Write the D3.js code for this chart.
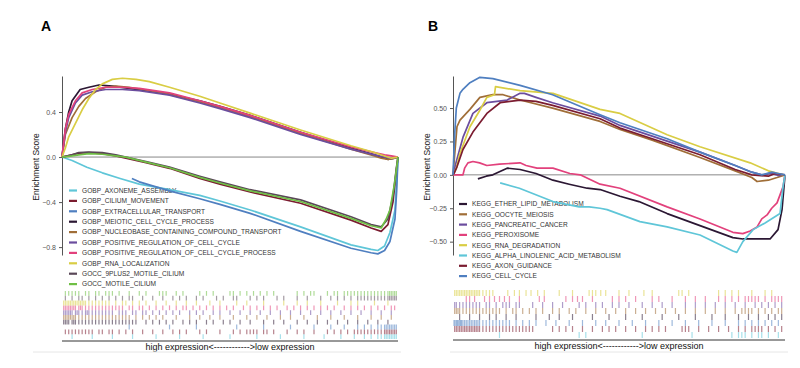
<!DOCTYPE html>
<html>
<head>
<meta charset="utf-8">
<script src="https://cdn.jsdelivr.net/npm/d3@7"></script>
<style>
  body { margin: 0; background: #fff; }
  svg { display: block; font-family: "Liberation Sans", Arial, sans-serif; }
</style>
</head>
<body>
<svg width="800" height="368"></svg>
<script>
// ---- panel A : GO gene sets ----
var namesA = ["GOBP_AXONEME_ASSEMBLY", "GOBP_CILIUM_MOVEMENT", "GOBP_EXTRACELLULAR_TRANSPORT",
  "GOBP_MEIOTIC_CELL_CYCLE_PROCESS", "GOBP_NUCLEOBASE_CONTAINING_COMPOUND_TRANSPORT",
  "GOBP_POSITIVE_REGULATION_OF_CELL_CYCLE", "GOBP_POSITIVE_REGULATION_OF_CELL_CYCLE_PROCESS",
  "GOBP_RNA_LOCALIZATION", "GOCC_9PLUS2_MOTILE_CILIUM", "GOCC_MOTILE_CILIUM"];
var ticksA = [-0.8, -0.4, 0, 0.4];

// running enrichment score, [rank %, ES]
var esAxoneme = [[0,0],[3,-0.03],[7.4,-0.09],[12,-0.14],[17.3,-0.19],[23,-0.24],[32,-0.29],[41,-0.34],[47,-0.39],[56,-0.47],[71,-0.62],[86,-0.78],[92,-0.82],[94,-0.83],[96,-0.79],[97.6,-0.67],[99.1,-0.47],[100,0]];
var esCilium = [[0,0],[3,0.02],[5,0.035],[8,0.04],[12,0.03],[16,0.01],[19,-0.01],[25,-0.05],[32,-0.1],[41,-0.19],[47,-0.24],[56,-0.31],[71,-0.41],[86,-0.56],[92,-0.63],[95,-0.66],[97,-0.6],[98.5,-0.4],[99.5,-0.12],[100,0]];
var esExtra = [[20.8,-0.19],[23,-0.22],[32,-0.3],[41,-0.37],[47,-0.42],[56,-0.5],[71,-0.66],[86,-0.81],[92,-0.85],[94,-0.86],[96,-0.83],[97.6,-0.75],[99.1,-0.55],[99.6,-0.3],[100,0]];
var esMeiotic = [[0,0],[1,0.25],[2,0.4],[3,0.5],[5.4,0.6],[8,0.62],[11,0.64],[15,0.63],[20,0.61],[30,0.57],[41,0.5],[47,0.45],[56,0.37],[71,0.22],[86,0.08],[93,0.02],[95,0],[97,-0.02],[99,-0.01],[100,0]];
var esNucleo = [[0,0],[1,0.2],[3,0.35],[5,0.45],[7,0.52],[10,0.58],[13,0.62],[16,0.63],[20,0.62],[30,0.57],[41,0.49],[47,0.44],[56,0.36],[71,0.21],[86,0.07],[93,0.01],[95,-0.01],[97,-0.02],[99,-0.01],[100,0]];
var esPosReg = [[0,0],[1,0.22],[2,0.35],[4,0.48],[6,0.55],[9,0.58],[13,0.6],[18,0.6],[23,0.59],[32,0.55],[41,0.48],[47,0.43],[56,0.35],[71,0.2],[86,0.07],[93,0.02],[96,0],[98,-0.01],[100,0]];
var esPosRegProc = [[0,0],[1,0.25],[2,0.38],[4,0.5],[6,0.57],[9,0.6],[13,0.62],[18,0.62],[23,0.61],[32,0.57],[41,0.5],[47,0.45],[56,0.37],[71,0.22],[86,0.09],[93,0.04],[96,0.02],[98,0.01],[100,0]];
var esRnaLoc = [[0,0],[1,0.08],[2,0.18],[4,0.3],[6,0.42],[8,0.52],[10,0.6],[12,0.65],[15,0.69],[18,0.7],[22,0.69],[26,0.67],[32,0.62],[41,0.54],[47,0.48],[56,0.39],[71,0.24],[86,0.1],[93,0.04],[96,0.01],[98,-0.01],[100,0]];
var es9plus2 = [[0,0],[3,0.02],[5,0.04],[8,0.045],[12,0.04],[16,0.02],[19,0],[25,-0.04],[32,-0.09],[41,-0.17],[47,-0.22],[56,-0.29],[71,-0.38],[86,-0.53],[92,-0.6],[95,-0.62],[97,-0.55],[98.5,-0.35],[99.5,-0.1],[100,0]];
var esMotile = [[0,0],[3,0.01],[5,0.02],[8,0.03],[12,0.025],[16,0.01],[19,0],[25,-0.045],[32,-0.095],[41,-0.18],[47,-0.23],[56,-0.3],[71,-0.395],[86,-0.545],[92,-0.61],[95,-0.63],[96.5,-0.55],[97.6,-0.47],[99,-0.23],[100,0]];

// gene hit positions, rank %
var hitAxoneme = [3,9,15,21,28,35,42,50,58,65,72,78,83,87,90,92,94,95,96,96.5,97,97.5,98,98.5,99,99.5];
var hitCilium = [1,2,3,4,5,6,7,8,9,11,12,14,15,17,19,21,24,27,30,33,35,37,41,43,47,51,53,55,56,57,58,60,61,63,67,70,72,75,79,81,83,85,87,88,89,90,91,92,93,94,95,96,96.5,97,97.5,98,98.5,99,99.5];
var hitExtra = [20,32,40,52,60,68,75,80,84,88,90,92,94,95,96,96.5,97,97.5,98,98.5,99,99.5];
var hitMeiotic = [0.5,1,1.5,2,3,3.5,4,5,6,7,8,9,10,11,12,13,14,15,16,17,18,19,20,21,22,25,27,29,31,33,36,38,40,43,45,48,50,53,56,60,63,66,70,73,76,79,82,85,88,91,94,97];
var hitNucleo = [0.5,1,1.5,2,2.5,3,3.5,4,5,6,7,8,9,10,11,12,13,14,15,16,17,18,19,20,22,24,26,28,30,34,38,41,44,47,51,55,58,61,65,68,72,76,80,84,88,92,95,98];
var hitPosReg = [0.5,1,1.5,2,2.5,3,4,4.5,5,6,7,7.5,8,9,10,11,12,13,14,15,17,18,19,21,22,24,25,27,29,31,33,35,38,40,42,45,47,50,53,56,59,62,65,68,71,74,77,80,83,86,89,92,95,98];
var hitPosRegProc = [0.5,1,1.5,2,2.5,3,3.5,4,5,5.5,6,7,8,9,10,11,12,13,14,15,16,17,18,20,21,23,24,26,28,30,32,34,36,37,39,41,43,45,47,49,51,54,56,58,60,62,64,67,69,71,73,75,77,79,81,84,86,88,90,92,94,96,98,99];
var hitRnaLoc = [0.5,1,1.5,2,2.5,3,3.5,4,4.5,5,5.5,6,6.5,7,8,9,10,11,12,13,14,16,18,19,21,23,25,28,31,34,37,40,44,47,52,55,60,66,70,73,77,82,86,88,93,97];
var hit9plus2 = [1,3,5,6,8,10,12,14,16,18,20,21,24,27,30,33,35,37,40,42,46,48,51,52,56,58,60,64,66,70,73,77,80,82,84,86,88,89,90,91,92,93,94,95,96,97,97.5,98,98.5,99,99.5];
var hitMotile = [1,2,3,4,5,7,8,10,11,13,14,15,17,20,23,25,29,30,31,34,36,41,43,45,50,51,53,55,57,59,61,63,70,72,74,75,79,81,82,84,85,86,87,88,89,90,91,92,93,94,95,96,97,97.5,98,98.5,99,99.5];

// ---- panel B : KEGG pathways ----
var namesB = ["KEGG_ETHER_LIPID_METABOLISM", "KEGG_OOCYTE_MEIOSIS", "KEGG_PANCREATIC_CANCER",
  "KEGG_PEROXISOME", "KEGG_RNA_DEGRADATION", "KEGG_ALPHA_LINOLENIC_ACID_METABOLISM",
  "KEGG_AXON_GUIDANCE", "KEGG_CELL_CYCLE"];
var ticksB = [-0.5, -0.25, 0, 0.25, 0.5];

var esEther = [[7.5,-0.03],[10,-0.01],[12,0],[16.3,0.05],[20.2,0.04],[25,0.01],[30.1,-0.04],[35,-0.07],[40.4,-0.1],[44.3,-0.11],[50.3,-0.16],[56,-0.2],[64.5,-0.29],[74.4,-0.38],[84.3,-0.47],[87.3,-0.48],[91,-0.48],[95.5,-0.48],[97.9,-0.41],[99.1,-0.26],[100,0]];
var esOocyte = [[0,0],[0.5,0.15],[1.2,0.36],[2.1,0.41],[5.1,0.49],[8.1,0.58],[12,0.6],[15.1,0.6],[20.2,0.56],[30,0.5],[44.3,0.4],[50.3,0.34],[60,0.26],[74.4,0.13],[85,0.03],[90,-0.02],[91.6,-0.05],[95,-0.04],[97.6,-0.02],[100,0]];
var esPancreatic = [[0,0],[1,0.1],[3,0.28],[6,0.46],[10.2,0.54],[16.3,0.56],[20.2,0.61],[21.5,0.61],[25,0.58],[30,0.54],[44.3,0.44],[50.3,0.37],[60,0.29],[74.4,0.17],[85,0.07],[90,0.02],[93,0],[96,0.01],[98,-0.005],[100,0]];
var esPeroxisome = [[0,0],[3,0],[3.5,0.05],[4.5,0.09],[6,0.1],[8,0.09],[10.2,0.07],[14,0.08],[20.2,0.09],[22,0.07],[25.3,0.05],[30.1,0.05],[35.2,0.01],[38.3,0],[44.3,-0.07],[50.3,-0.1],[64.5,-0.24],[74.4,-0.33],[84.3,-0.43],[87.3,-0.44],[89.5,-0.42],[91.6,-0.39],[93,-0.33],[94.6,-0.3],[96,-0.25],[97.6,-0.21],[98.5,-0.15],[99.4,-0.09],[100,0]];
var esRnaDeg = [[0,0],[1,0.05],[2.1,0.16],[5.1,0.36],[8,0.48],[10.2,0.58],[12.5,0.6],[12.8,0.66],[20.2,0.63],[30.1,0.61],[44.3,0.49],[50.3,0.46],[64.5,0.3],[74.4,0.21],[89.5,0.09],[95,0.03],[99.4,0],[100,0]];
var esAlpha = [[14.2,-0.06],[20,-0.1],[30.1,-0.2],[38,-0.24],[41,-0.24],[44.3,-0.25],[46.4,-0.26],[56.3,-0.35],[64.5,-0.39],[74.4,-0.45],[84.3,-0.57],[85.5,-0.58],[87.3,-0.5],[90.4,-0.41],[94,-0.36],[98.5,-0.29],[99.4,-0.09],[100,0]];
var esAxon = [[0,0],[0.5,0.02],[1.2,0.06],[3,0.19],[6,0.32],[10.2,0.46],[14.2,0.54],[20.2,0.56],[25,0.55],[30,0.52],[44.3,0.42],[50.3,0.35],[60,0.27],[74.4,0.15],[85,0.04],[90,0],[95,-0.01],[97,0.01],[100,0]];
var esCellCycle = [[0,0],[0.5,0.3],[1,0.5],[2.1,0.61],[3,0.64],[5.1,0.69],[8.1,0.73],[12,0.72],[20.2,0.67],[30,0.6],[44.3,0.45],[50.3,0.39],[64.5,0.27],[74.4,0.17],[85,0.07],[90,0.02],[93,0],[96,0.02],[98,0.01],[100,0]];

var hitEther = [2,5,8,11,13,16,19,25,29,32,36,42,47,52,57,63,68,73,78,82,86,89,92,95,97,99];
var hitOocyte = [0.5,1,1.5,2,3,4,5,6,7,8,9,10,11,12,13,14,16,18,19,21,23,25,27,30,32,35,37,40,43,46,49,52,55,58,61,64,67,70,73,76,79,82,85,87,88,89,90,92,94,96,98,99];
var hitPancreatic = [0.5,1,2,3,4,5,6,7,8,10,11,13,15,16,17,19,20,24,27,30,33,38,40,43,45,48,50,53,57,60,63,66,70,73,76,79,82,85,88,91,93,95,97,99];
var hitPeroxisome = [4,5,6.5,9.5,11,12.5,14,15.5,17,20,26,27.5,34,36,37.5,39,42,48,50,52,55,60,62,66,70,73,76,80,82,84,86,88,89,90,91,92,94,96,97,98,99];
var hitRnaDeg = [0.5,1,1.5,2,2.5,3,3.5,4,4.5,5,5.5,6,6.5,7,7.5,8,9,10,11,12,16.5,18.5,20,22,23.5,25.5,27.5,32,36,41,42,43,44.5,46,50,53,57.5,60,68,69,71,80,82,84,86,90,94,96];
var hitAlpha = [14,38,40,57,72,84,86,87,88,90,92,93,95,98];
var hitAxon = [0.5,1,1.5,2,2.5,3,3.5,4,4.5,5,5.5,6,6.5,7,7.5,8,9,10,11,12,13,14,15,16,17,18,19,20,21,22,23,24,30,32,34,36,39,42,45,47,49,52,55,58,60,62,64,69,70,71,74,77,80,83,86,88,90,91,92,93,95,97,99];
var hitCellCycle = [0.3,0.6,1,1.3,1.6,2,2.3,2.6,3,3.5,4,4.5,5,5.5,6,6.5,7,7.5,8,9,10,11,12,13,14,15,16,17,19,21,23,25,28,31,35,39,43,46,50,54,58,62,66,70,74,78,82,86,88,90,92,94,96,98];

var colorsA = ["#5fc6d8", "#7b1c30", "#4f7fc0", "#2b1733", "#a06e38", "#6b4d9e", "#e2417c", "#d9cd44", "#5a4858", "#6fbf45"];
var colorsB = ["#2b1733", "#a06e38", "#6b4d9e", "#e2417c", "#d9cd44", "#5fc6d8", "#7b1c30", "#4f7fc0"];

var svg = d3.select("svg");

function drawPanel(p) {
  var x = d3.scaleLinear().domain([0, 100]).range([p.x0, p.x1]);
  var y = d3.scaleLinear().domain(p.yDomain).range([255, 76]);
  var g = svg.append("g");

  // panel letter
  g.append("text").attr("x", p.letterX).attr("y", 31)
    .style("font-size", "14px").style("font-weight", "bold").text(p.letter);

  // zero line
  g.append("line")
    .attr("x1", x(0)).attr("x2", x(100)).attr("y1", y(0)).attr("y2", y(0))
    .style("stroke", "#7a7a7a").style("stroke-width", 0.9);

  // y axis
  var ax = g.append("g").attr("transform", "translate(" + p.x0 + ",0)")
    .call(d3.axisLeft(y).tickValues(p.ticks).tickFormat(d3.format(p.fmt)).tickSize(3).tickSizeOuter(0));
  ax.select(".domain").style("stroke", "#555").style("stroke-width", 1);
  ax.selectAll(".tick line").style("stroke", "#555");
  ax.selectAll(".tick text").style("font-size", "7px").style("fill", "#555")
    .style("font-family", "Liberation Sans, Arial, sans-serif");

  g.append("text")
    .attr("transform", "translate(" + p.labelX + ",167) rotate(-90)")
    .style("text-anchor", "middle").style("font-size", "8.5px").style("fill", "#222")
    .text("Enrichment Score");

  // legend (lines are drawn over it)
  var leg = g.append("g").selectAll("g").data(p.names).enter().append("g")
    .attr("transform", function (d, i) { return "translate(" + p.legX + "," + (p.legY + i * p.legStep) + ")"; });
  leg.append("line").attr("x1", 0).attr("x2", 8).attr("y1", 0).attr("y2", 0)
    .style("stroke", function (d, i) { return p.colors[i]; }).style("stroke-width", 2.2);
  leg.append("text").attr("x", 13).attr("y", 0).attr("dy", "0.35em")
    .style("font-size", "6.6px").style("fill", "#333").text(function (d) { return d; });

  // running ES curves
  var line = d3.line().x(function (d) { return x(d[0]); }).y(function (d) { return y(d[1]); });
  g.append("g").selectAll("path").data(p.curves).enter().append("path")
    .attr("d", line)
    .style("fill", "none")
    .style("stroke", function (d, i) { return p.colors[i]; })
    .style("stroke-width", 1.7)
    .style("stroke-linejoin", "round");

  // rug of hits, one row per set, sorted names from bottom to top
  var order = p.names.slice().sort().reverse();
  var band = d3.scaleBand().domain(order).range([p.rugTop, p.rugBottom]);
  p.hits.forEach(function (h, i) {
    var name = p.names[i];
    g.append("g").selectAll("line").data(h).enter().append("line")
      .attr("x1", function (d) { return x(d); }).attr("x2", function (d) { return x(d); })
      .attr("y1", band(name)).attr("y2", band(name) + band.bandwidth())
      .style("stroke", p.colors[i]).style("stroke-width", 1.2).style("stroke-opacity", 0.55);
  });

  g.append("line").attr("x1", x(0)).attr("x2", x(100))
    .attr("y1", p.rugBottom + 2).attr("y2", p.rugBottom + 2)
    .style("stroke", "#333").style("stroke-width", 1);
  g.append("text").attr("x", (x(0) + x(100)) / 2).attr("y", p.rugBottom + 10.5)
    .style("text-anchor", "middle").style("font-size", "9px").style("fill", "#111")
    .text("high expression<------------>low expression");
  g.append("line").attr("x1", p.sepX0).attr("x2", x(100) + 3)
    .attr("y1", 352).attr("y2", 352)
    .style("stroke", "#e6e6e6").style("stroke-width", 1);
}

drawPanel({
  letter: "A", letterX: 41, x0: 62, x1: 398, yDomain: [-0.87, 0.72],
  ticks: ticksA, fmt: ".1f", labelX: 39,
  names: namesA, colors: colorsA,
  curves: [esAxoneme, esCilium, esExtra, esMeiotic, esNucleo, esPosReg, esPosRegProc, esRnaLoc, es9plus2, esMotile],
  hits: [hitAxoneme, hitCilium, hitExtra, hitMeiotic, hitNucleo, hitPosReg, hitPosRegProc, hitRnaLoc, hit9plus2, hitMotile],
  legX: 69, legY: 190.5, legStep: 10.4,
  rugTop: 291, rugBottom: 339, sepX0: 33
});

drawPanel({
  letter: "B", letterX: 428, x0: 453, x1: 785, yDomain: [-0.6, 0.74],
  ticks: ticksB, fmt: ".2f", labelX: 430,
  names: namesB, colors: colorsB,
  curves: [esEther, esOocyte, esPancreatic, esPeroxisome, esRnaDeg, esAlpha, esAxon, esCellCycle],
  hits: [hitEther, hitOocyte, hitPancreatic, hitPeroxisome, hitRnaDeg, hitAlpha, hitAxon, hitCellCycle],
  legX: 459, legY: 204, legStep: 10.3,
  rugTop: 290, rugBottom: 338, sepX0: 450
});
</script>
</body>
</html>
